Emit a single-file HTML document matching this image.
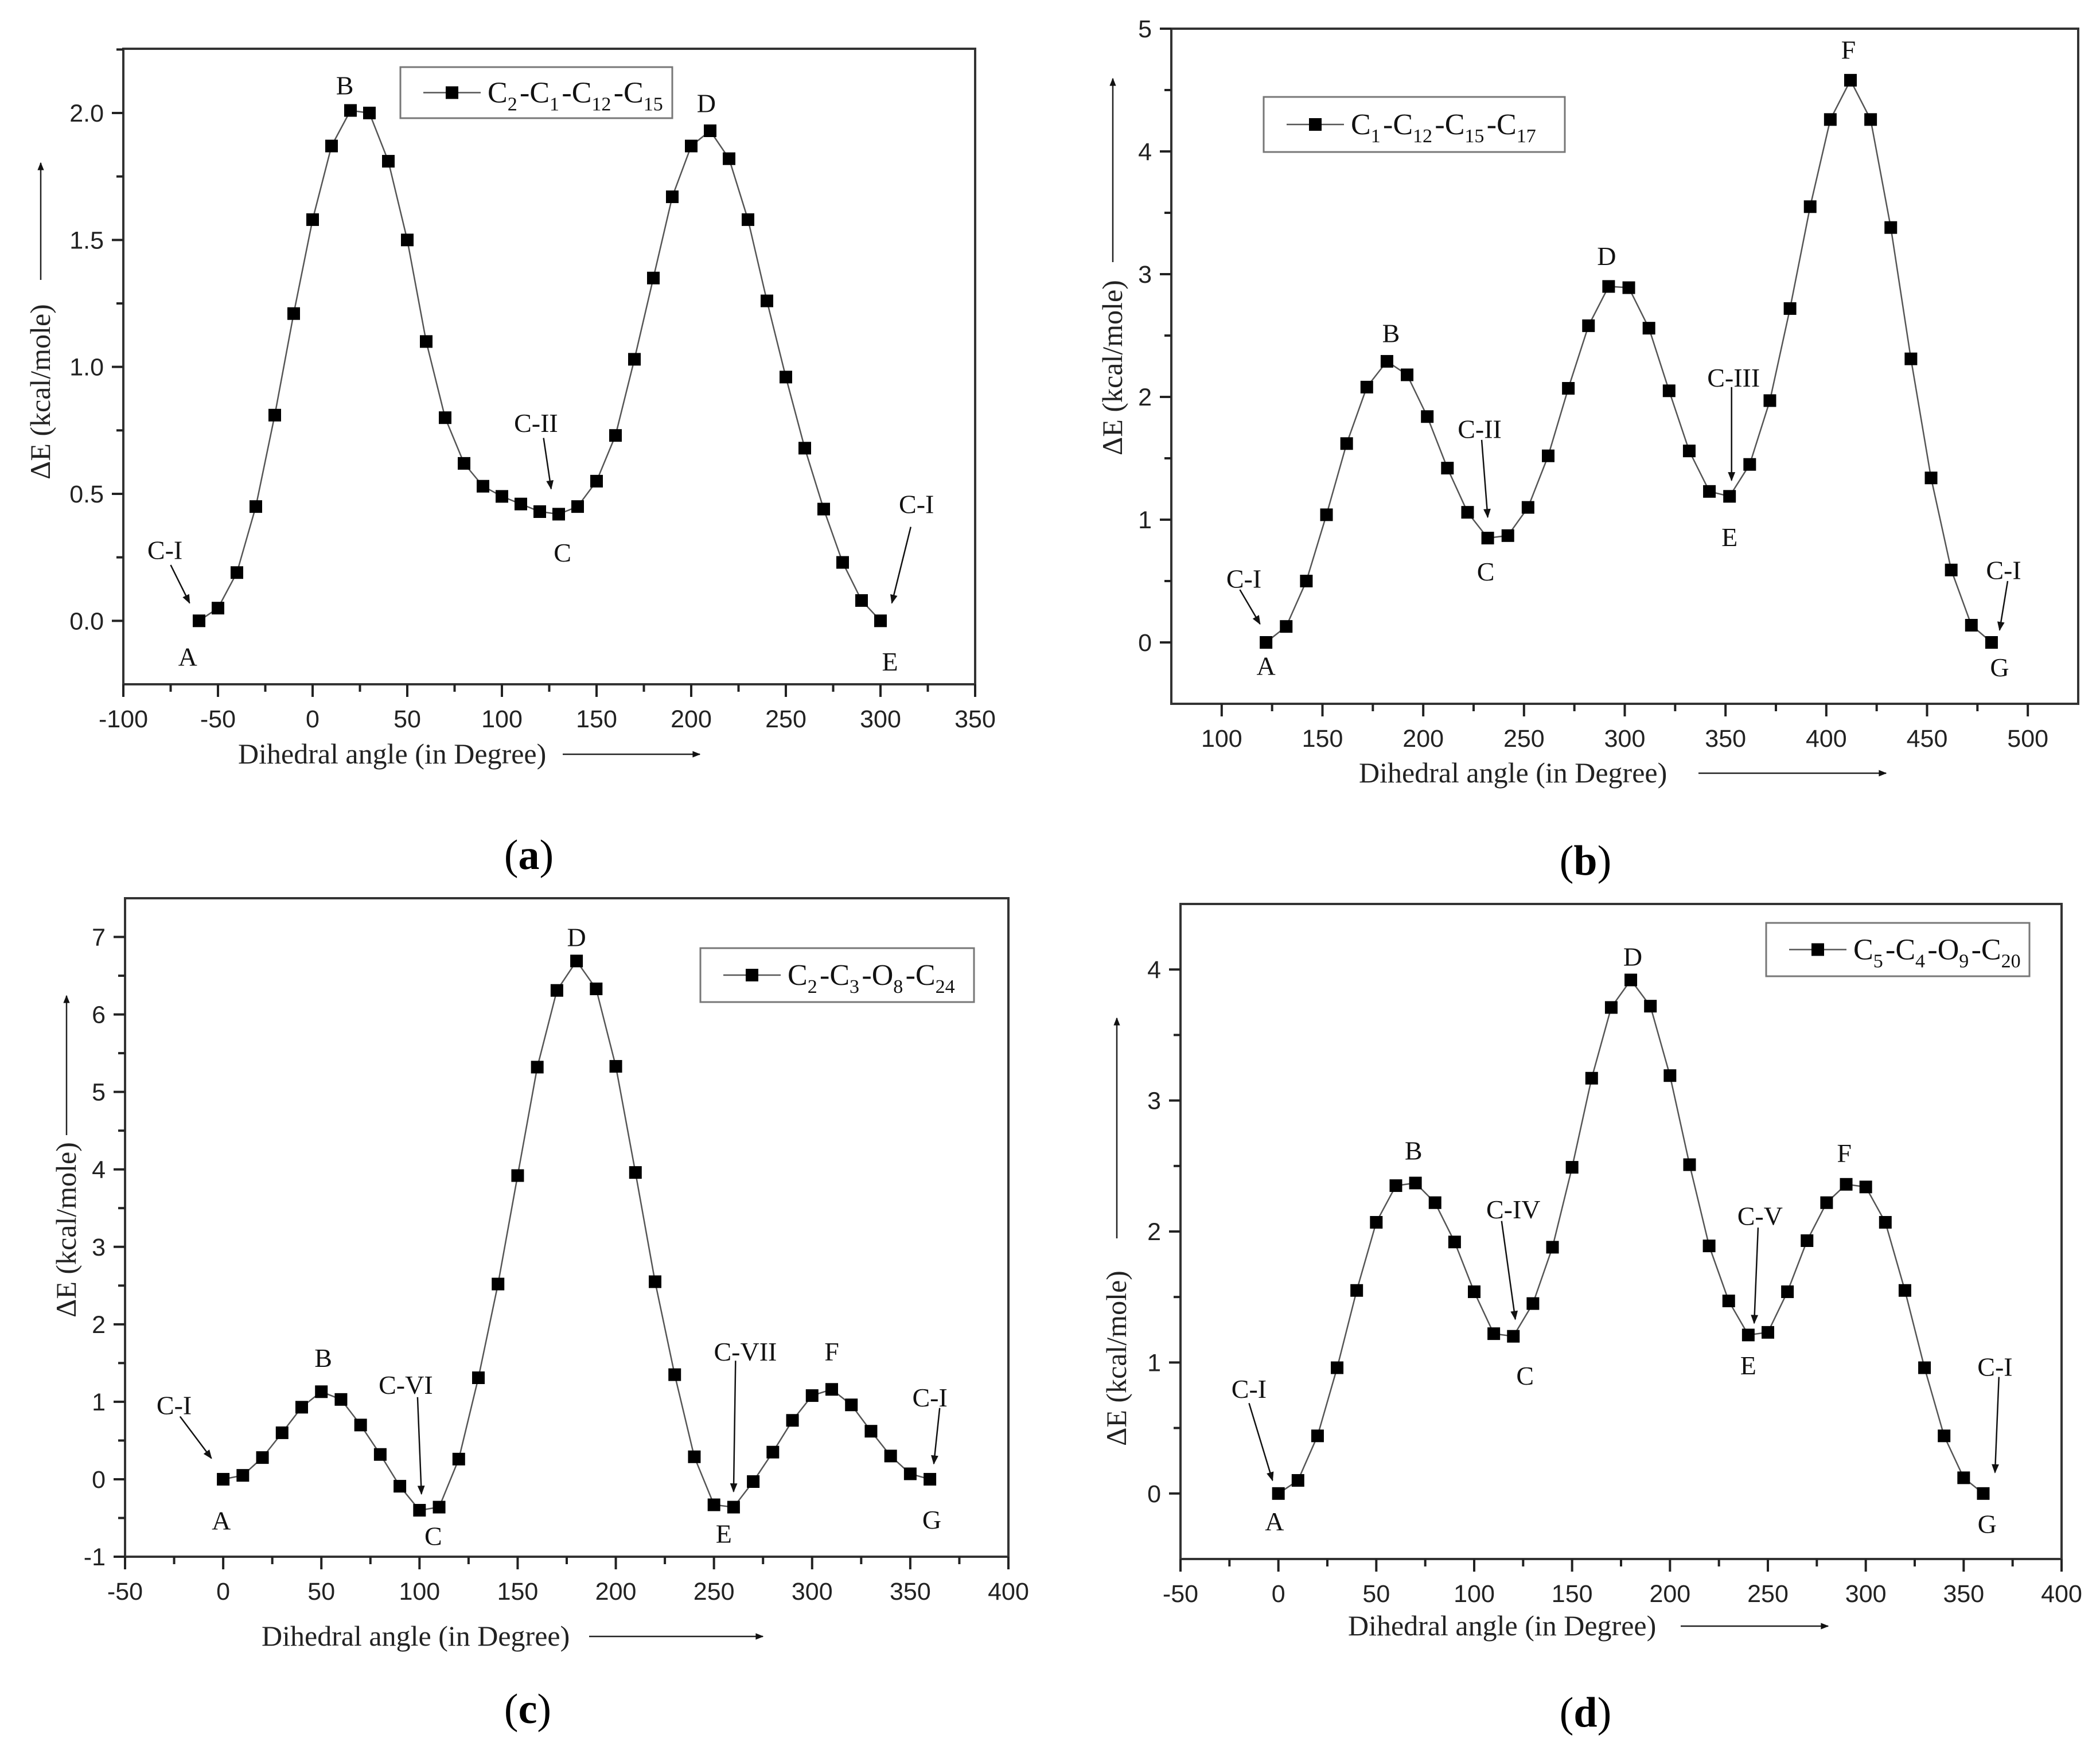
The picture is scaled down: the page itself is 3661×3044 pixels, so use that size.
<!DOCTYPE html>
<html><head><meta charset="utf-8">
<style>
html,body{margin:0;padding:0;background:#fff;}
svg{display:block;}
.tick{font-family:"Liberation Sans",Arial,sans-serif;font-size:43px;fill:#222;}
.ttl{font-family:"Liberation Serif",serif;font-size:50px;fill:#222;}
.ann{font-family:"Liberation Serif",serif;font-size:46px;fill:#111;}
.leg{font-family:"Liberation Serif",serif;font-size:52px;fill:#111;}
.plab{font-family:"Liberation Serif",serif;font-size:74px;fill:#000;}
</style></head>
<body>
<svg id="fig" width="3661" height="3044" viewBox="0 0 3661 3044" xmlns="http://www.w3.org/2000/svg">
<defs>
<marker id="ah" viewBox="0 0 10 10" refX="9" refY="5" markerWidth="22" markerHeight="14" markerUnits="userSpaceOnUse" orient="auto"><path d="M0,1 L10,5 L0,9 z" fill="#111"/></marker>
<marker id="ah2" viewBox="0 0 10 10" refX="9" refY="5" markerWidth="22" markerHeight="16" markerUnits="userSpaceOnUse" orient="auto"><path d="M0,1 L10,5 L0,9 z" fill="#111"/></marker>
</defs>
</svg>
<script>
// ---- Panel (a) data: C2-C1-C12-C15
const anglesA = [-60,-50,-40,-30,-20,-10,0,10,20,30,40,50,60,70,80,90,100,110,120,130,140,150,160,170,180,190,200,210,220,230,240,250,260,270,280,290,300];
const energyA = [0,0.05,0.19,0.45,0.81,1.21,1.58,1.87,2.01,2.00,1.81,1.50,1.10,0.80,0.62,0.53,0.49,0.46,0.43,0.42,0.45,0.55,0.73,1.03,1.35,1.67,1.87,1.93,1.82,1.58,1.26,0.96,0.68,0.44,0.23,0.08,0.0];
const xTicksA = [-100,-50,0,50,100,150,200,250,300,350];
const yTicksA = ["0.0","0.5","1.0","1.5","2.0"];
// ---- Panel (b) data: C1-C12-C15-C17
const anglesB = [122,132,142,152,162,172,182,192,202,212,222,232,242,252,262,272,282,292,302,312,322,332,342,352,362,372,382,392,402,412,422,432,442,452,462,472,482];
const energyB = [0,0.13,0.50,1.04,1.62,2.08,2.29,2.18,1.84,1.42,1.06,0.85,0.87,1.10,1.52,2.07,2.58,2.90,2.89,2.56,2.05,1.56,1.23,1.19,1.45,1.97,2.72,3.55,4.26,4.58,4.26,3.38,2.31,1.34,0.59,0.14,0.0];
const xTicksB = [100,150,200,250,300,350,400,450,500];
const yTicksB = ["0","1","2","3","4","5"];
// ---- Panel (c) data: C2-C3-O8-C24
const anglesC = [0,10,20,30,40,50,60,70,80,90,100,110,120,130,140,150,160,170,180,190,200,210,220,230,240,250,260,270,280,290,300,310,320,330,340,350,360];
const energyC = [0,0.05,0.28,0.60,0.93,1.13,1.03,0.70,0.32,-0.09,-0.40,-0.36,0.26,1.31,2.52,3.92,5.32,6.31,6.69,6.33,5.33,3.96,2.55,1.35,0.29,-0.33,-0.36,-0.03,0.35,0.76,1.08,1.16,0.96,0.62,0.30,0.07,0.0];
const xTicksC = [-50,0,50,100,150,200,250,300,350,400];
const yTicksC = ["-1","0","1","2","3","4","5","6","7"];
// ---- Panel (d) data: C5-C4-O9-C20
const anglesD = [0,10,20,30,40,50,60,70,80,90,100,110,120,130,140,150,160,170,180,190,200,210,220,230,240,250,260,270,280,290,300,310,320,330,340,350,360];
const energyD = [0,0.10,0.44,0.96,1.55,2.07,2.35,2.37,2.22,1.92,1.54,1.22,1.20,1.45,1.88,2.49,3.17,3.71,3.92,3.72,3.19,2.51,1.89,1.47,1.21,1.23,1.54,1.93,2.22,2.36,2.34,2.07,1.55,0.96,0.44,0.12,0.0];
const xTicksD = [-50,0,50,100,150,200,250,300,350,400];
const yTicksD = ["0","1","2","3","4"];

// annotations: [text, x, y] ; arrows: [x1,y1,x2,y2] in data coords
const labelsA = [["C-I",-78,0.28],["A",-66,-0.14],["B",17,2.11],["D",208,2.04],["C-II",118,0.78],["C",132,0.27],["C-I",319,0.46],["E",305,-0.16]];
const arrowsA = [[-75,0.22,-65,0.07],[122,0.72,126,0.52],[316,0.37,306,0.07]];
const labelsB = [["C-I",111,0.52],["A",122,-0.19],["B",184,2.52],["C-II",228,1.74],["C",231,0.58],["D",291,3.15],["C-III",354,2.16],["E",352,0.86],["F",411,4.83],["C-I",488,0.59],["G",486,-0.2]];
const arrowsB = [[109,0.43,119,0.15],[229,1.65,232,1.02],[353,2.08,353,1.32],[490,0.5,486,0.1]];
const labelsC = [["C-I",-25,0.96],["A",-1,-0.53],["B",51,1.57],["C-VI",93,1.22],["C",107,-0.73],["D",180,7.0],["C-VII",266,1.65],["E",255,-0.7],["F",310,1.65],["C-I",360,1.06],["G",361,-0.52]];
const arrowsC = [[-22,0.81,-6,0.27],[99,1.06,101,-0.19],[261,1.53,260,-0.16],[365,0.92,362,0.2]];
const labelsD = [["C-I",-15,0.8],["A",-2,-0.21],["B",69,2.62],["C-IV",120,2.17],["C",126,0.9],["D",181,4.1],["C-V",246,2.12],["E",240,0.98],["F",289,2.6],["C-I",366,0.97],["G",362,-0.23]];
const arrowsD = [[-15,0.69,-3,0.1],[114,2.08,121,1.33],[245,2.03,243,1.3],[368,0.89,366,0.16]];

const NS = "http://www.w3.org/2000/svg";
const svg = document.getElementById("fig");
function mk(tag, attrs, parent){
  const e = document.createElementNS(NS, tag);
  for (const k in attrs) e.setAttribute(k, attrs[k]);
  (parent||svg).appendChild(e);
  return e;
}

function panel(cfg){
  const g = mk("g", {});
  
  
  const L=cfg.L,R=cfg.R,T=cfg.T,B=cfg.B;
  const sx = v => L + (v - cfg.x0) / (cfg.x1 - cfg.x0) * (R - L);
  const sy = v => B - (v - cfg.y0) / (cfg.y1 - cfg.y0) * (B - T);
  const fr = mk("rect", {x:L,y:T,width:R-L,height:B-T,fill:"none",stroke:"#333","stroke-width":4}, g);
  
  
  const xt = mk("g", {}, g);
  
  
  const xs = cfg.xTicks;
  const step = xs[1]-xs[0];
  for (let i=0;i<xs.length;i++){
    const x = sx(xs[i]);
    mk("line",{x1:x,y1:B,x2:x,y2:B+22,stroke:"#222","stroke-width":4},xt);
    const t = mk("text",{x:x,y:B+75,"text-anchor":"middle",class:"tick"},xt);
    t.textContent = xs[i];
    
    
    if (i<xs.length-1){
      const m = sx(xs[i]+step/2);
      mk("line",{x1:m,y1:B,x2:m,y2:B+13,stroke:"#222","stroke-width":4},xt);
    }
  }
  const yt = mk("g", {}, g);
  
  
  const ys = cfg.yTicks.map(Number);
  const ystep = ys[1]-ys[0];
  for (let i=0;i<ys.length;i++){
    const y = sy(ys[i]);
    mk("line",{x1:L-20,y1:y,x2:L,y2:y,stroke:"#222","stroke-width":4},yt);
    const t = mk("text",{x:L-34,y:y+15,"text-anchor":"end",class:"tick"},yt);
    t.textContent = cfg.yTicks[i];
    
    
    for (const mv of [ys[i]-ystep/2, ys[i]+ystep/2]){
      if (mv>cfg.y0 && mv<cfg.y1 && (i===0 || mv>ys[i])){
        const my = sy(mv);
        mk("line",{x1:L-12,y1:my,x2:L,y2:my,stroke:"#222","stroke-width":4},yt);
      }
    }
  }
  const pts = cfg.xs.map((v,i)=>sx(v).toFixed(1)+","+sy(cfg.ys[i]).toFixed(1)).join(" ");
  const pl = mk("polyline",{points:pts,fill:"none",stroke:"#555","stroke-width":2.5},g);
  
  
  for (let i=0;i<cfg.xs.length;i++){
    const r = mk("rect",{x:sx(cfg.xs[i])-11,y:sy(cfg.ys[i])-11,width:22,height:22,fill:"#000"},g);
    
    
  }
  for (const a of cfg.labels){
    const t = mk("text",{x:sx(a[1]),y:sy(a[2])+16,"text-anchor":"middle",class:"ann"},g);
    t.textContent = a[0];
    
    
  }
  for (const a of cfg.arrows){
    const l = mk("line",{x1:sx(a[0]),y1:sy(a[1]),x2:sx(a[2]),y2:sy(a[3]),stroke:"#111","stroke-width":2.5,"marker-end":"url(#ah2)"},g);
    
    
  }
  const lg = mk("g",{},g);
  
  
  const lb = cfg.leg;
  mk("rect",{x:lb[0],y:lb[1],width:lb[2]-lb[0],height:lb[3]-lb[1],fill:"#fff",stroke:"#777","stroke-width":3},lg);
  const cy = (lb[1]+lb[3])/2;
  mk("line",{x1:lb[0]+40,y1:cy,x2:lb[0]+140,y2:cy,stroke:"#555","stroke-width":2.5},lg);
  mk("rect",{x:lb[0]+79,y:cy-11,width:22,height:22,fill:"#000"},lg);
  const lt = mk("text",{x:lb[0]+152,y:cy+17,class:"leg"},lg);
  
  
  cfg.legParts.forEach((p,i)=>{
    const s1 = mk("tspan",{},lt); s1.textContent = (i? "-" : "") + p[0];
    const s2 = mk("tspan",{dy:14,"font-size":34},lt); s2.textContent = p[1];
    const s3 = mk("tspan",{dy:-14},lt); s3.textContent = "\u200A";
  });
  const xtl = mk("text",{x:cfg.xt[0],y:cfg.xt[1]+16,class:"ttl"},g);
  xtl.textContent = "Dihedral angle (in Degree)";
  
  
  const xa = mk("line",{x1:cfg.xa[0],y1:cfg.xt[1],x2:cfg.xa[1],y2:cfg.xt[1],stroke:"#222","stroke-width":2.5,"marker-end":"url(#ah)"},g);
  
  
  const ytl = mk("text",{x:0,y:0,class:"ttl","text-anchor":"middle",transform:`translate(${cfg.yt[0]+16},${cfg.yt[1]}) rotate(-90)`},g);
  ytl.textContent = "\u0394E (kcal/mole)";
  
  
  const ya = mk("line",{x1:cfg.yt[0],y1:cfg.ya[1],x2:cfg.yt[0],y2:cfg.ya[0],stroke:"#222","stroke-width":2.5,"marker-end":"url(#ah)"},g);
  
  
  const pl2 = mk("text",{x:cfg.pl[0],y:cfg.pl[1]+25,"text-anchor":"middle",class:"plab"},g);
  
  
  const p1 = mk("tspan",{},pl2); p1.textContent = "(";
  const p2 = mk("tspan",{"font-weight":"bold"},pl2); p2.textContent = cfg.id;
  const p3 = mk("tspan",{},pl2); p3.textContent = ")";
}

panel({id:"a",L:215,R:1700,T:85,B:1193,x0:-100,x1:350,y0:-0.25,y1:2.253,
  xTicks:xTicksA,yTicks:yTicksA,xs:anglesA,ys:energyA,labels:labelsA,arrows:arrowsA,
  leg:[698,117,1172,206],legParts:[["C","2"],["C","1"],["C","12"],["C","15"]],
  xt:[415,1315],xa:[981,1220],yt:[71,683],ya:[284,488],pl:[922,1490]});
panel({id:"b",L:2042,R:3623,T:50,B:1227,x0:75,x1:525,y0:-0.5,y1:5,
  xTicks:xTicksB,yTicks:yTicksB,xs:anglesB,ys:energyB,labels:labelsB,arrows:arrowsB,
  leg:[2203,169,2728,265],legParts:[["C","1"],["C","12"],["C","15"],["C","17"]],
  xt:[2369,1348],xa:[2961,3288],yt:[1940,641],ya:[137,457],pl:[2764,1500]});
panel({id:"c",L:218,R:1758,T:1566,B:2714,x0:-50,x1:400,y0:-1,y1:7.5,
  xTicks:xTicksC,yTicks:yTicksC,xs:anglesC,ys:energyC,labels:labelsC,arrows:arrowsC,
  leg:[1221,1653,1698,1747],legParts:[["C","2"],["C","3"],["O","8"],["C","24"]],
  xt:[456,2853],xa:[1027,1330],yt:[116,2144],ya:[1736,1979],pl:[920,2979]});
panel({id:"d",L:2058,R:3594,T:1576,B:2718,x0:-50,x1:400,y0:-0.5,y1:4.5,
  xTicks:xTicksD,yTicks:yTicksD,xs:anglesD,ys:energyD,labels:labelsD,arrows:arrowsD,
  leg:[3079,1609,3538,1702],legParts:[["C","5"],["C","4"],["O","9"],["C","20"]],
  xt:[2350,2835],xa:[2930,3187],yt:[1947,2368],ya:[1775,2159],pl:[2764,2985]});
</script>
</body></html>
